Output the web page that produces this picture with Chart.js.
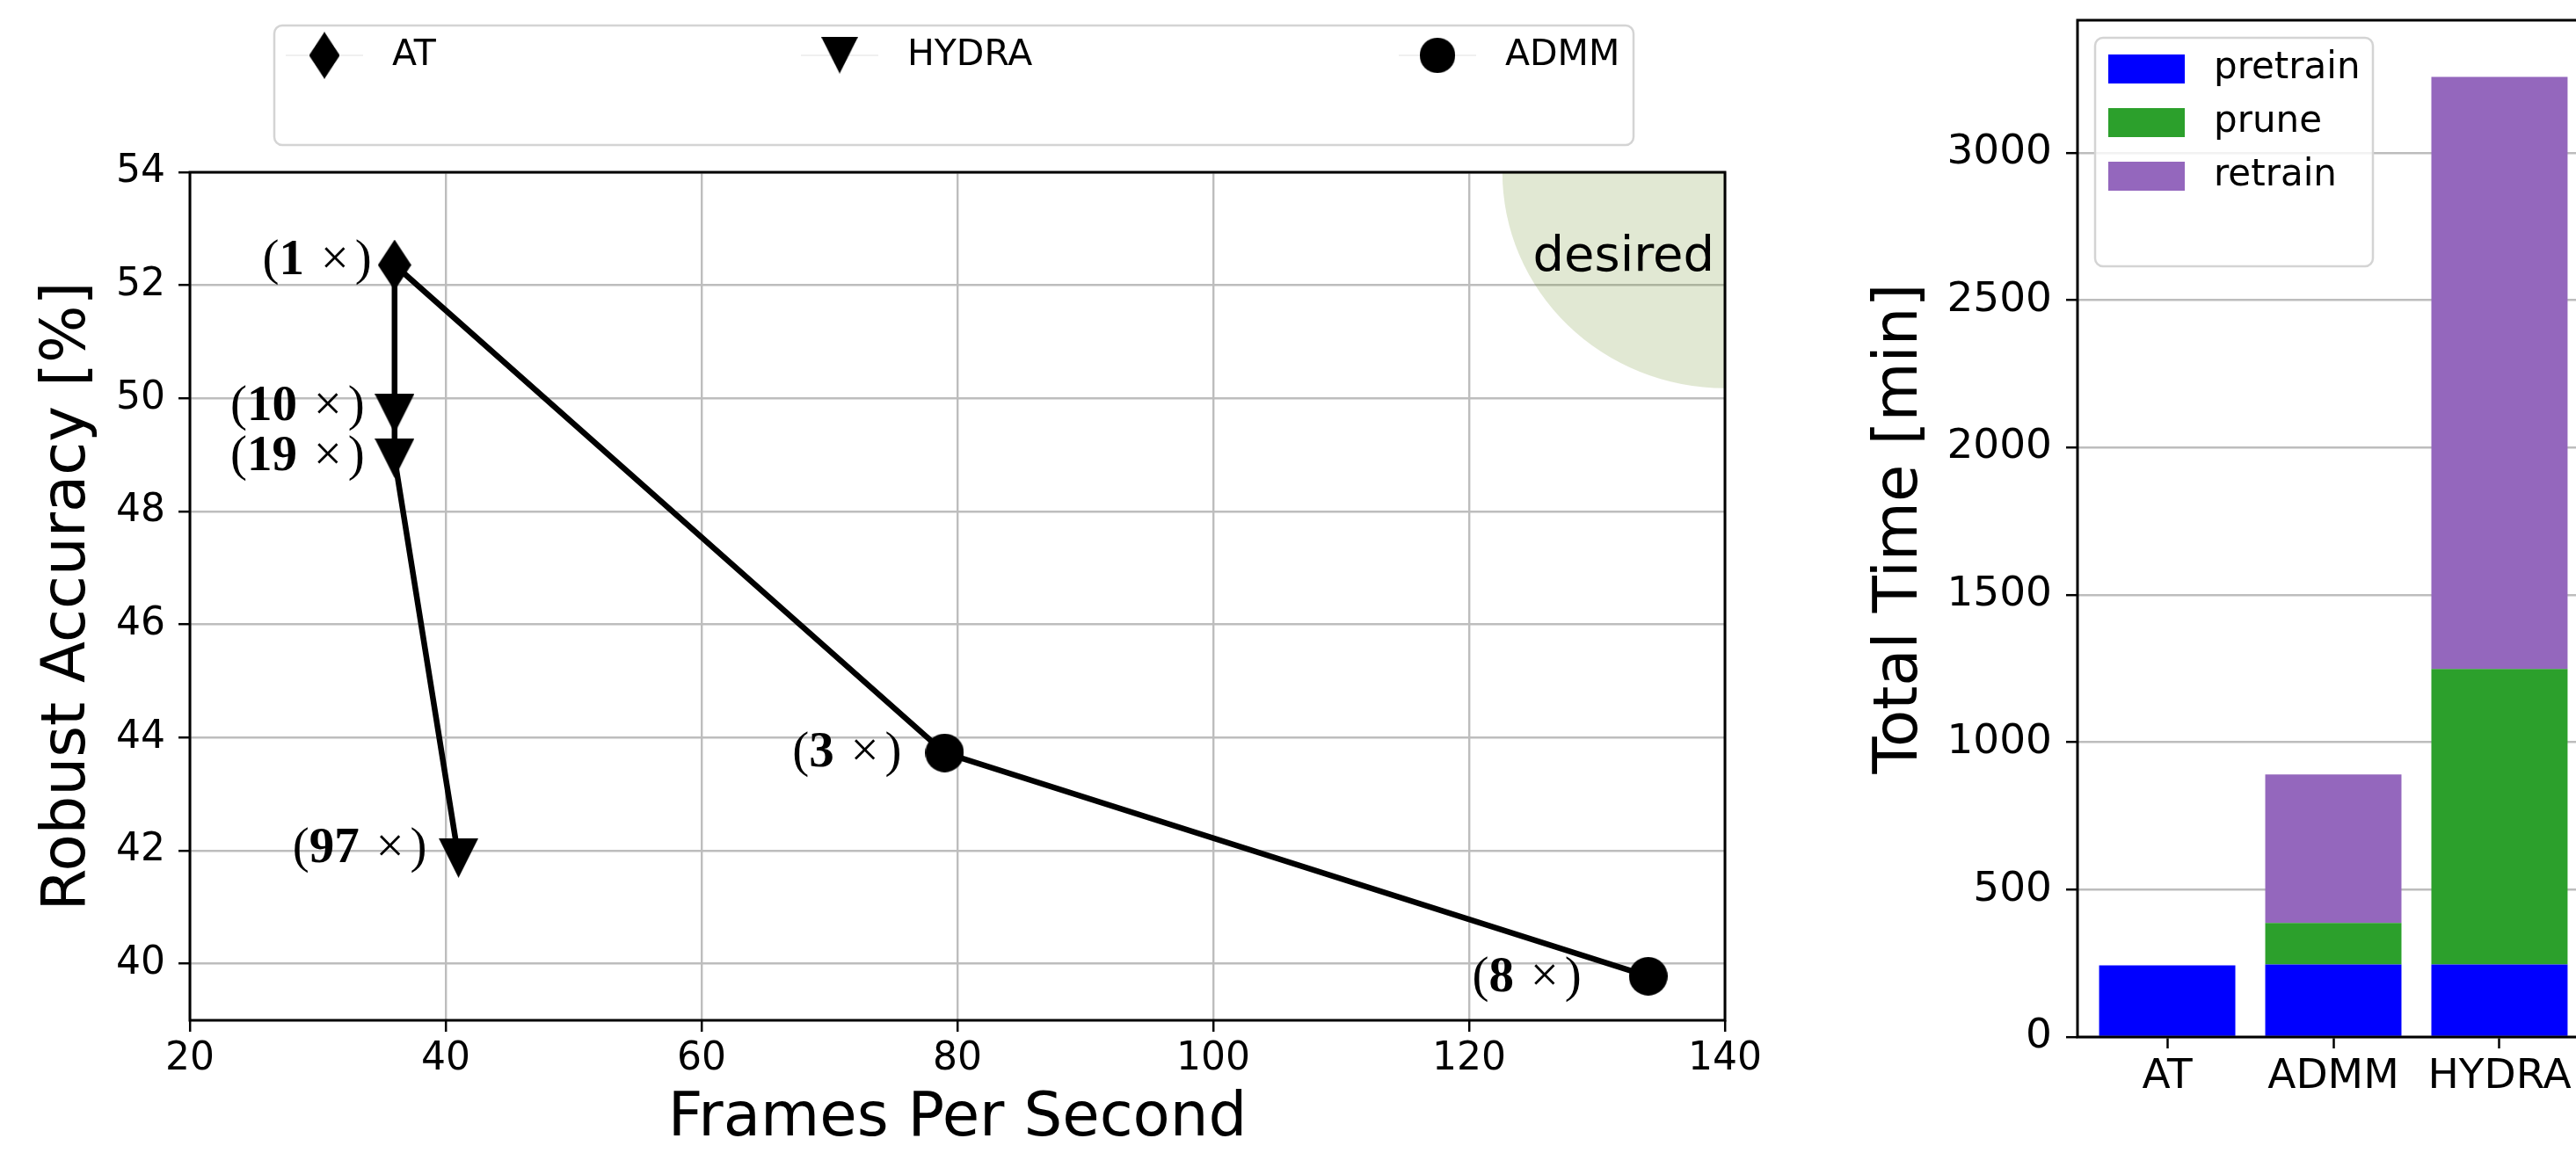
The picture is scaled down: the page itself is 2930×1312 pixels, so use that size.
<!DOCTYPE html>
<html>
<head>
<meta charset="utf-8">
<script src="https://cdn.jsdelivr.net/npm/chart.js@4.4.1/dist/chart.umd.min.js"></script>
<style>
  html, body { margin: 0; padding: 0; background: #fff; width: 2930px; height: 1312px; overflow: hidden; position: relative; }
  #acc { position: absolute; left: 0; top: 0; }
  #time { position: absolute; left: 2100px; top: 0; }
</style>
</head>
<body>
<canvas id="acc" width="2100" height="1312"></canvas>
<canvas id="time" width="900" height="1312"></canvas>
<script>
// ---- Robust accuracy vs. inference speed ----
const atFps = [36];
const atAcc = [52.36];
const atRatio = [1];

const hydraFps = [36, 36, 41];
const hydraAcc = [49.73, 48.94, 41.87];
const hydraRatio = [10, 19, 97];

const admmFps = [79, 134];
const admmAcc = [43.73, 39.78];
const admmRatio = [3, 8];

const fpsTicks = [20, 40, 60, 80, 100, 120, 140];
const accTicks = [40, 42, 44, 46, 48, 50, 52, 54];

// target zone in the upper-right corner (data units)
const desiredRegion = { fps: 140, acc: 54, fpsRadius: 17.4, accRadius: 3.82 };

// ---- Training time breakdown ----
const methods = ['AT', 'ADMM', 'HYDRA'];
const pretrainMin = [243, 246, 246];
const pruneMin = [0, 141, 1003];
const retrainMin = [0, 504, 2009];
const timeTicks = [0, 500, 1000, 1500, 2000, 2500, 3000];

Chart.defaults.font.family = '"DejaVu Sans", sans-serif';
Chart.defaults.color = '#000';

const GRID = '#bdbdbd';

function makeMarker(shape, w, h) {
  const c = document.createElement('canvas');
  c.width = w; c.height = h;
  const g = c.getContext('2d');
  g.fillStyle = '#000';
  g.beginPath();
  if (shape === 'diamond') {
    g.moveTo(w / 2, 0); g.lineTo(w, h / 2); g.lineTo(w / 2, h); g.lineTo(0, h / 2);
  } else if (shape === 'triangleDown') {
    g.moveTo(0, 0); g.lineTo(w, 0); g.lineTo(w / 2, h);
  } else {
    g.arc(w / 2, h / 2, w / 2, 0, Math.PI * 2);
  }
  g.closePath();
  g.fill();
  return c;
}

const diamondMark = makeMarker('diamond', 38, 58);
const triangleMark = makeMarker('triangleDown', 45, 45);
const circleMark = makeMarker('circle', 44, 44);

const pts = (xs, ys) => xs.map((x, i) => ({ x, y: ys[i] }));

// first vertex of each curve is the unpruned AT model, drawn without a marker
const hideFirst = c => (c.dataIndex === 0 ? 0 : 22);

// keep the plot frame exactly where the layout puts it
const noLabelPadding = s => { s.paddingTop = 0; s.paddingBottom = 0; s.paddingLeft = 0; s.paddingRight = 0; };

function roundRect(ctx, x, y, w, h, r) {
  ctx.beginPath();
  ctx.moveTo(x + r, y);
  ctx.lineTo(x + w - r, y);
  ctx.arcTo(x + w, y, x + w, y + r, r);
  ctx.lineTo(x + w, y + h - r);
  ctx.arcTo(x + w, y + h, x + w - r, y + h, r);
  ctx.lineTo(x + r, y + h);
  ctx.arcTo(x, y + h, x, y + h - r, r);
  ctx.lineTo(x, y + r);
  ctx.arcTo(x, y, x + r, y, r);
  ctx.closePath();
}

const desiredZone = {
  id: 'desiredZone',
  beforeDatasetsDraw(chart) {
    const { ctx, chartArea: a, scales: { x, y } } = chart;
    const cx = x.getPixelForValue(desiredRegion.fps);
    const cy = y.getPixelForValue(desiredRegion.acc);
    const rx = cx - x.getPixelForValue(desiredRegion.fps - desiredRegion.fpsRadius);
    const ry = y.getPixelForValue(desiredRegion.acc - desiredRegion.accRadius) - cy;
    ctx.save();
    ctx.beginPath();
    ctx.rect(a.left, a.top, a.right - a.left, a.bottom - a.top);
    ctx.clip();
    ctx.fillStyle = 'rgba(107, 142, 35, 0.2)';
    ctx.beginPath();
    ctx.ellipse(cx, cy, rx, ry, 0, 0, Math.PI * 2);
    ctx.fill();
    ctx.fillStyle = '#000';
    ctx.font = '56px "DejaVu Sans"';
    ctx.textAlign = 'right';
    ctx.textBaseline = 'alphabetic';
    ctx.fillText('desired', a.right - 12, a.top + 112);
    ctx.restore();
  }
};

const frameBox = {
  id: 'frameBox',
  afterDatasetsDraw(chart) {
    const { ctx, chartArea: a } = chart;
    ctx.save();
    ctx.strokeStyle = '#000';
    ctx.lineWidth = 3;
    ctx.strokeRect(a.left, a.top, a.right - a.left, a.bottom - a.top);
    ctx.restore();
  }
};

// pixel offsets of each "(n x)" label's right edge / middle from its point
const labelOffsets = {
  AT: [[-26, -4]],
  HYDRA: [null, [-34, -8], [-34, -1], [-36, -10]],
  ADMM: [null, [-49, 0], [-76, 2]]
};

function drawRatio(ctx, n, xRight, yMid) {
  const size = 57;
  const reg = size + 'px "Liberation Serif"';
  const bold = 'bold ' + size + 'px "Liberation Serif"';
  ctx.font = reg;
  const wOpen = ctx.measureText('(').width;
  const wTimes = ctx.measureText('\u00d7').width;
  const wClose = ctx.measureText(')').width;
  ctx.font = bold;
  const wNum = ctx.measureText(String(n)).width;
  const gap1 = 0.33 * size, gap2 = 0.12 * size;
  const total = wOpen + wNum + gap1 + wTimes + gap2 + wClose;
  let x = xRight - total;
  const base = yMid + 0.26 * size;
  ctx.textAlign = 'left';
  ctx.textBaseline = 'alphabetic';
  ctx.font = reg; ctx.fillText('(', x, base); x += wOpen;
  ctx.font = bold; ctx.fillText(String(n), x, base); x += wNum + gap1;
  ctx.font = reg; ctx.fillText('\u00d7', x, base); x += wTimes + gap2;
  ctx.fillText(')', x, base);
}

const ratioLabels = {
  id: 'ratioLabels',
  afterDatasetsDraw(chart) {
    const ctx = chart.ctx;
    ctx.save();
    ctx.fillStyle = '#000';
    chart.data.datasets.forEach((ds, i) => {
      const meta = chart.getDatasetMeta(i);
      const offs = labelOffsets[ds.label];
      meta.data.forEach((el, j) => {
        const r = ds.ratios[j];
        if (r == null || !offs[j]) return;
        drawRatio(ctx, r, el.x + offs[j][0], el.y + offs[j][1]);
      });
    });
    ctx.restore();
  }
};

const pointLegend = {
  id: 'pointLegend',
  afterDraw(chart) {
    const ctx = chart.ctx;
    ctx.save();
    roundRect(ctx, 312, 29, 1546, 136, 9);
    ctx.fillStyle = 'rgba(255,255,255,0.8)';
    ctx.fill();
    ctx.strokeStyle = '#d4d4d4';
    ctx.lineWidth = 2.5;
    ctx.stroke();
    const cols = [369, 955, 1635];
    const rowY = 63;
    const k = 0.92;
    chart.data.datasets.forEach((ds, i) => {
      const cx = cols[i];
      ctx.strokeStyle = 'rgba(0,0,0,0.06)';
      ctx.lineWidth = 2;
      ctx.beginPath();
      ctx.moveTo(cx - 44, rowY); ctx.lineTo(cx + 44, rowY);
      ctx.stroke();
      const img = ds.pointStyle;
      const w = img.width * k, h = img.height * k;
      ctx.drawImage(img, cx - w / 2, rowY - h / 2, w, h);
      ctx.fillStyle = '#000';
      ctx.font = '41px "DejaVu Sans"';
      ctx.textAlign = 'left';
      ctx.textBaseline = 'middle';
      ctx.fillText(ds.label, cx + 77, rowY);
    });
    ctx.restore();
  }
};

new Chart(document.getElementById('acc'), {
  type: 'scatter',
  data: {
    datasets: [
      {
        label: 'AT', data: pts(atFps, atAcc), ratios: atRatio,
        pointStyle: diamondMark, pointRadius: 22, showLine: false, order: 0
      },
      {
        label: 'HYDRA', data: [...pts(atFps, atAcc), ...pts(hydraFps, hydraAcc)],
        ratios: [null, ...hydraRatio],
        pointStyle: triangleMark, pointRadius: hideFirst,
        showLine: true, borderColor: '#000', borderWidth: 6.5, order: 1
      },
      {
        label: 'ADMM', data: [...pts(atFps, atAcc), ...pts(admmFps, admmAcc)],
        ratios: [null, ...admmRatio],
        pointStyle: circleMark, pointRadius: hideFirst,
        showLine: true, borderColor: '#000', borderWidth: 6.5, order: 1
      }
    ]
  },
  options: {
    responsive: false,
    animation: false,
    events: [],
    layout: { padding: { left: 0, right: 138, top: 196, bottom: 0 } },
    plugins: { legend: { display: false }, tooltip: { enabled: false } },
    scales: {
      x: {
        type: 'linear', min: 20, max: 140,
        afterBuildTicks: s => { s.ticks = fpsTicks.map(v => ({ value: v })); },
        afterFit: s => { s.height = 151; noLabelPadding(s); },
        border: { display: false },
        grid: { color: GRID, lineWidth: 2.4, drawTicks: true, tickLength: 13, tickColor: '#000', tickWidth: 2.5 },
        ticks: { font: { size: 44, lineHeight: 1 }, color: '#000', padding: 10, maxRotation: 0, autoSkip: false,
                 callback: v => String(v) },
        title: { display: true, text: 'Frames Per Second', color: '#000', font: { size: 69, lineHeight: 1 }, padding: { top: 0, bottom: 3 } }
      },
      y: {
        type: 'linear', min: 39, max: 54,
        afterBuildTicks: s => { s.ticks = accTicks.map(v => ({ value: v })); },
        afterFit: s => { s.width = 216; noLabelPadding(s); },
        border: { display: false },
        grid: { color: GRID, lineWidth: 2.4, drawTicks: true, tickLength: 13, tickColor: '#000', tickWidth: 2.5 },
        ticks: { font: { size: 44, lineHeight: 1 }, color: '#000', padding: 15, callback: v => String(v) },
        title: { display: true, text: 'Robust Accuracy [%]', color: '#000', font: { size: 69, lineHeight: 1 }, padding: { top: 44, bottom: 0 } }
      }
    }
  },
  plugins: [desiredZone, frameBox, ratioLabels, pointLegend]
});

// ---- stacked time bars ----
const stageColors = { pretrain: '#0000ff', prune: '#2ca02c', retrain: '#9467bd' };
const bars = (vals) => vals.map((v, i) => ({ x: i, y: v }));

const stageLegend = {
  id: 'stageLegend',
  afterDraw(chart) {
    const ctx = chart.ctx;
    ctx.save();
    roundRect(ctx, 283, 43, 316, 260, 9);
    ctx.fillStyle = 'rgba(255,255,255,0.8)';
    ctx.fill();
    ctx.strokeStyle = '#d4d4d4';
    ctx.lineWidth = 2.5;
    ctx.stroke();
    chart.data.datasets.forEach((ds, i) => {
      const top = 62 + i * 61;
      ctx.fillStyle = ds.backgroundColor;
      ctx.fillRect(298, top, 87, 33);
      ctx.fillStyle = '#000';
      ctx.font = '42px "DejaVu Sans"';
      ctx.textAlign = 'left';
      ctx.textBaseline = 'middle';
      ctx.fillText(ds.label, 418, top + 16.5);
    });
    ctx.restore();
  }
};

new Chart(document.getElementById('time'), {
  type: 'bar',
  data: {
    datasets: [
      { label: 'pretrain', data: bars(pretrainMin), backgroundColor: stageColors.pretrain },
      { label: 'prune', data: bars(pruneMin), backgroundColor: stageColors.prune },
      { label: 'retrain', data: bars(retrainMin), backgroundColor: stageColors.retrain }
    ]
  },
  options: {
    responsive: false,
    animation: false,
    events: [],
    barPercentage: 0.82,
    categoryPercentage: 1.0,
    layout: { padding: { left: 0, right: 55, top: 23, bottom: 0 } },
    plugins: { legend: { display: false }, tooltip: { enabled: false } },
    scales: {
      x: {
        type: 'linear', min: -0.54, max: 2.54, stacked: true, offset: false,
        afterBuildTicks: s => { s.ticks = methods.map((_, i) => ({ value: i })); },
        afterFit: s => { s.height = 132; noLabelPadding(s); },
        border: { display: false },
        grid: { offset: false, drawOnChartArea: false, drawTicks: true, tickLength: 13, tickColor: '#000', tickWidth: 2.5 },
        ticks: { font: { size: 47, lineHeight: 1 }, color: '#000', padding: 9, maxRotation: 0, autoSkip: false,
                 callback: v => methods[v] }
      },
      y: {
        type: 'linear', min: 0, max: 3450, stacked: true,
        afterBuildTicks: s => { s.ticks = timeTicks.map(v => ({ value: v })); },
        afterFit: s => { s.width = 263; noLabelPadding(s); },
        border: { display: false },
        grid: { color: GRID, lineWidth: 2.4, drawTicks: true, tickLength: 13, tickColor: '#000', tickWidth: 2.5 },
        ticks: { font: { size: 47, lineHeight: 1 }, color: '#000', padding: 16, callback: v => String(v) },
        title: { display: true, text: 'Total Time [min]', color: '#000', font: { size: 69, lineHeight: 1 }, padding: { top: 28, bottom: 0 } }
      }
    }
  },
  plugins: [frameBox, stageLegend]
});
</script>
</body>
</html>
